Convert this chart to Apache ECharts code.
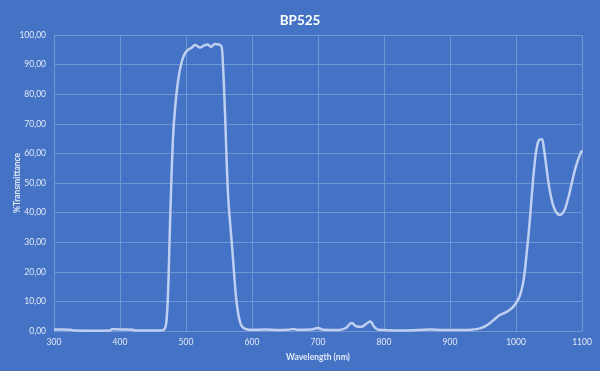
<!DOCTYPE html>
<html>
<head>
<meta charset="utf-8">
<script src="https://cdn.jsdelivr.net/npm/echarts@6/dist/echarts.min.js"></script>
<style>
html,body{margin:0;padding:0;background:#4472C4;}
#c{width:600px;height:371px;}
</style>
</head>
<body>
<div id="c"></div>
<script>
const titleText = 'BP525';
const xName = 'Wavelength (nm)';
const yName = '%Transmittance';
const wavelengths = [300,310,325,330,350,370,385,388,400,420,422,440,460,466,469,471,473,475,477,479,481,483,486,489,492,495,499,503,508,514,521,527,533,538,544,550,554,556,558,560,562,564,567,570,573,576,579,582,585,590,600,620,640,655,662,670,690,700,708,730,742,751,758,765,773,779,785,792,820,850,870,890,920,935,945,955,965,975,985,995,1003,1008,1012,1016,1020,1024,1028,1032,1036,1039,1042,1046,1050,1055,1060,1066,1072,1078,1084,1090,1095,1100];
const transmittance = [0.5,0.5,0.4,0.15,0.1,0.1,0.15,0.6,0.5,0.4,0.2,0.2,0.2,0.4,1.5,5,14,30,45,58,68,74,81,86,89.5,92,94,95,95.6,96.6,95.8,96.4,96.8,96,97,96.8,96,90,80,68,55,45,36,28,19,11,6,3,1.5,0.7,0.4,0.5,0.3,0.4,0.7,0.4,0.5,1,0.4,0.3,1,2.7,1.6,1.4,2.4,3.2,1.5,0.4,0.2,0.3,0.5,0.3,0.3,0.5,0.9,1.8,3.5,5.3,6.4,8,10.5,13.5,18,26,35,46,56,62.5,64.7,64.8,62,55.5,49,43.5,40.5,39.2,40.2,44,49.5,55,58.5,61];
const seriesData = wavelengths.map((w,i)=>[w, transmittance[i]]);

const chart = echarts.init(document.getElementById('c'));
const gridColor = '#7096d4';
const txt = '#e2e9f7';
const ff = 'Lato, "Open Sans", sans-serif';
chart.setOption({
  backgroundColor: '#4472C4',
  animation: false,
  title: {
    text: titleText, left: 'center', top: 9,
    textStyle: {color: '#ffffff', fontSize: 13.5, fontWeight: 'bold', fontFamily: ff}
  },
  grid: {left: 54, right: 18, top: 35, bottom: 40, containLabel: false, outerBoundsMode: 'none'},
  xAxis: {
    type: 'value', min: 300, max: 1100, interval: 100,
    name: xName, nameLocation: 'middle', nameGap: 22, nameMoveOverlap: false,
    nameTextStyle: {color: txt, fontSize: 8.5, fontWeight: 'bold', fontFamily: ff},
    axisLine: {show: true, lineStyle: {color: gridColor, width: 1}},
    axisTick: {show: false},
    axisLabel: {color: txt, fontSize: 8.5, margin: 7, fontFamily: ff, formatter: v => String(v)},
    splitLine: {show: true, lineStyle: {color: gridColor, width: 1}}
  },
  yAxis: {
    type: 'value', min: 0, max: 100, interval: 10,
    name: yName, nameLocation: 'middle', nameGap: 32, nameMoveOverlap: false,
    nameTextStyle: {color: txt, fontSize: 8.5, fontWeight: 'bold', fontFamily: ff},
    axisLine: {show: false},
    axisTick: {show: false},
    axisLabel: {color: txt, fontSize: 8.5, margin: 8, fontFamily: ff,
      formatter: v => v.toFixed(2).replace('.', ',')},
    splitLine: {show: true, lineStyle: {color: gridColor, width: 1}}
  },
  series: [{
    type: 'line', data: seriesData, showSymbol: false,
    smooth: 0.5,
    lineStyle: {color: '#bfcff0', width: 2.5}
  }]
});
</script>
</body>
</html>
